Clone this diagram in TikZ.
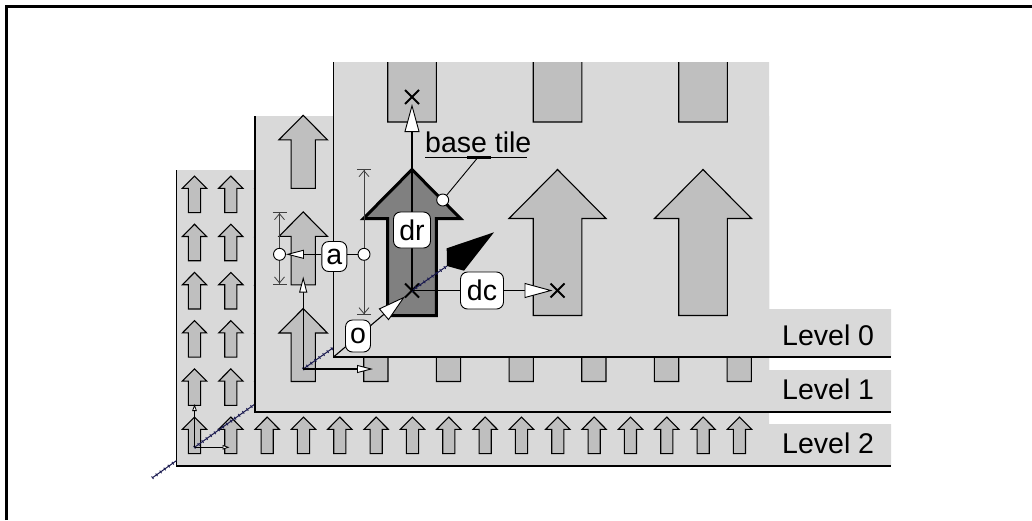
\documentclass[tikz,border=0pt]{standalone}
\usepackage{fontspec}
\setmainfont{Liberation Sans}
\usepackage{xcolor}
\usetikzlibrary{arrows.meta, shapes.misc, decorations.pathreplacing, positioning, calc}
\definecolor{levelgray}{HTML}{D9D9D9}
\definecolor{tilegray}{HTML}{BFBFBF}
\definecolor{basegray}{HTML}{808080}
\definecolor{axisblue}{HTML}{1A1A50}

\begin{document}
\begin{tikzpicture}[
        x=1pt, y=-1pt,
        font=\fontsize{28.5}{30}\selectfont,
        % Styles of the blocks
        level/.style={fill=levelgray, draw=none},
        edge/.style={line width=1.2pt, draw=black},
        tiledraw/.style={fill=tilegray, draw=black, line width=1.1pt, line join=miter},
        basetile/.style={fill=basegray, draw=black, line width=3pt, line join=miter},
        tile/.pic={\path[pic actions] (0,-121) -- (48.5,-72) -- (24.3,-72) -- (24.3,25) -- (-24.3,25) -- (-24.3,-72) -- (-48.5,-72) -- cycle;},
        cross/.style={cross out, draw=black, line width=2pt, minimum size=12pt, inner sep=0pt},
        tag/.style={rectangle, rounded corners=7pt, draw=black, line width=.9pt, fill=white, inner sep=0pt},
        leveltext/.style={anchor=base west, inner sep=0pt},
        ball/.style={circle, draw=black, line width=.9pt, fill=white, minimum size=12pt, inner sep=0pt},
        vec/.style={line width=1.1pt, draw=black},
        bigtip/.style={vec, -{Triangle[length=28pt, width=15pt, fill=white, line width=.9pt]}},
        midtip/.style={vec, -{Triangle[length=16pt, width=8pt, fill=white, line width=.9pt]}},
        sizetip/.style={vec, -{Triangle[length=18pt, width=9pt, fill=white, line width=.9pt]}},
        smalltip/.style={vec, line width=1.3pt, -{Triangle[length=7pt, width=4.5pt, fill=white, line width=.8pt]}},
        dimline/.style={line width=.8pt, draw=black!75, {Bar[width=14pt]Straight Barb[length=6pt, width=10pt]}-{Straight Barb[length=6pt, width=10pt]Bar[width=14pt]}},
        axisline/.style={draw=axisblue, line width=1pt, preaction={draw=axisblue, line width=.9pt, decorate, decoration={ticks, segment length=5pt, amplitude=1.6pt}}}
    ]
    \useasboundingbox (0,0) rectangle (1032,520);

    % --- 1. FRAME ---
    \coordinate (frameA) at (6.2,520);
    \coordinate (frameB) at (6.2,6.3);
    \coordinate (frameC) at (1032,6.3);
    \draw[line width=2.6pt] (frameA) -- (frameB) -- (frameC);

    % --- 2. LEVEL 2 ---
    \path[level] (176.5,170) -- (769,170) -- (769,424) -- (891,424) -- (891,466) -- (176.5,466) -- cycle;
    \foreach \row in {0,...,5}
        \foreach \col in {0,...,15}
            \pic[tiledraw, scale=.25] at ({194.5+36.33*\col},{447.3-48.2*\row}) {tile};
    \coordinate (corner2) at (176.5,466);
    \draw[edge] (176.5,170) -- (corner2) -- (891,466);

    % Axes of level 2
    \coordinate (org2) at (194.5,447.3);
    \coordinate (up2) at (194.5,404);
    \coordinate (right2) at (229.5,447.3);
    \coordinate (far) at (152.5,477.7);
    \coordinate (leave2) at (176.5,460.6);
    \coordinate (enter1) at (255,404);
    \draw[axisline] (far) -- (leave2);
    \draw[axisline] (org2) -- (enter1);
    \draw[smalltip] (org2) -- (up2);
    \draw[smalltip] (org2) -- (right2);

    % --- 3. LEVEL 1 ---
    \path[level] (255,116) -- (769,116) -- (769,370) -- (891,370) -- (891,412) -- (255,412) -- cycle;
    \foreach \row in {0,1,2}
        \foreach \col in {0,...,6}
            \pic[tiledraw, scale=.5] at ({303.2+72.67*\col},{369-96.6*\row}) {tile};
    \draw[edge] (255,116) -- (255,412) -- (891,412);

    % Axes of level 1
    \coordinate (org1) at (303.2,369);
    \coordinate (up1) at (303.2,276.5);
    \coordinate (right1) at (373,369);
    \coordinate (enter0) at (333.5,347.5);
    \draw[axisline] (org1) -- (enter0);
    \draw[midtip] (org1) -- (up1);
    \draw[midtip] (org1) -- (right1);

    % --- 4. LEVEL 0 ---
    \path[level] (333.5,62) -- (769,62) -- (769,309) -- (891,309) -- (891,357) -- (333.5,357) -- cycle;
    \begin{scope}
        \clip (333.5,62) rectangle (769,357);
        \foreach \col in {0,1,2} {
            \pic[tiledraw] at ({412+145.5*\col},97) {tile};
            \pic[tiledraw] at ({412+145.5*\col},290.5) {tile};
        }
    \end{scope}
    \coordinate (corner0) at (333.5,357);
    \draw[edge] (333.5,62) -- (corner0) -- (891,357);
    \pic[basetile] at (412,290.5) {tile};

    % --- 5. VECTORS ---
    \node[cross] (org0) at (412,290.5) {};
    \node[cross] (above0) at (412,97) {};
    \node[cross] (next0) at (557.5,290.5) {};
    \coordinate (kitetail) at (447,266);

    \draw[axisline] (org0.center) -- (kitetail);
    \fill[black] (kitetail) -- (446.7,248.3) -- (494,232.3) -- (464,270.7) -- cycle;

    \draw[bigtip] (org0.center) -- (above0);
    \node[tag, minimum width=37pt, minimum height=36pt] (dr) at (412,230) {dr};

    \draw[bigtip, shorten >=-2pt] (org0.center) -- (next0);
    \node[tag, minimum width=43pt, minimum height=37pt] (dc) at (482,290.5) {dc};

    \draw[bigtip] (corner0) -- (org0);
    \node[tag, minimum width=25pt, minimum height=32pt] (o) at (358,336) {o};

    % --- 6. TILE SIZE ---
    \coordinate (dimAtop) at (279.5,212.3);
    \coordinate (dimAbot) at (279.5,284.3);
    \coordinate (dimBtop) at (364,169.3);
    \coordinate (dimBbot) at (364,315);
    \draw[dimline] (dimAtop) -- (dimAbot);
    \draw[dimline] (dimBtop) -- (dimBbot);
    \node[ball] (ballA) at (279.5,254.3) {};
    \node[ball] (ballB) at (364,254.3) {};
    \node[tag, minimum width=25pt, minimum height=30pt] (a) at (334.3,256.5) {a};
    \draw[sizetip] (a.west |- ballA) -- (ballA);
    \draw[vec] (a.east |- ballB) -- (ballB);

    % --- 7. BASE TILE NOTE ---
    \node[inner sep=0pt, anchor=base west] (note) at (425,152) {base tile};
    \coordinate (noteL) at (425,157.3);
    \coordinate (noteR) at (527,157.3);
    \coordinate (noteA) at (467,157.3);
    \coordinate (noteB) at (491,157.3);
    \coordinate (noteC) at (478,157.3);
    \node[ball] (noteball) at (442.7,200) {};
    \draw[line width=.9pt] (noteL) -- (noteR);
    \draw[line width=2.4pt] (noteA) -- (noteB);
    \draw[line width=.9pt] (noteC) -- (noteball);

    % --- 8. LEVEL NAMES ---
    \node[leveltext] (lev0) at (782,345) {Level 0};
    \node[leveltext] (lev1) at (782,399) {Level 1};
    \node[leveltext] (lev2) at (782,453) {Level 2};

\end{tikzpicture}
\end{document}
